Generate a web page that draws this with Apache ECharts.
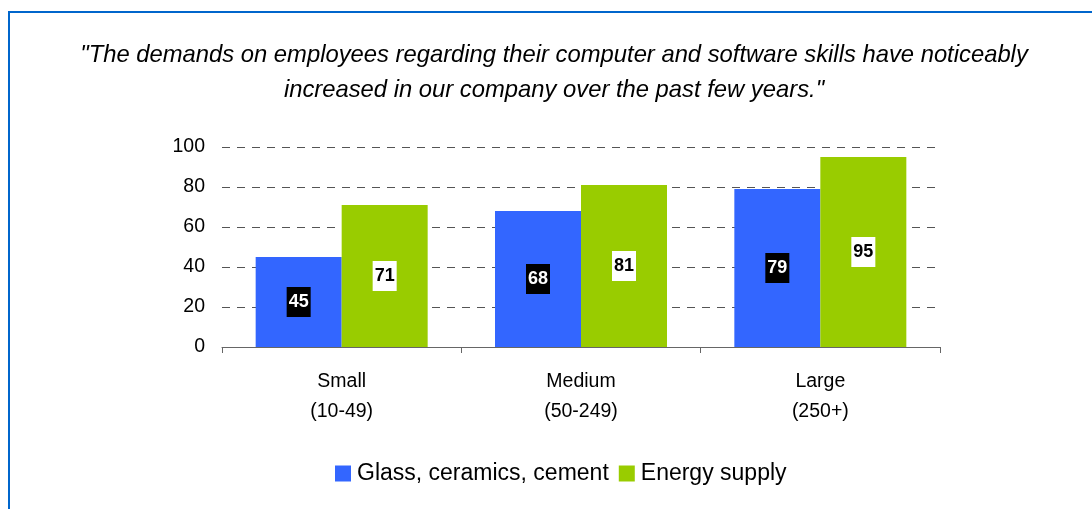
<!DOCTYPE html>
<html>
<head>
<meta charset="utf-8">
<script src="https://cdn.jsdelivr.net/npm/echarts@6/dist/echarts.min.js"></script>
<style>
html, body { margin: 0; padding: 0; background: #fff; }
#main { width: 1092px; height: 509px; }
</style>
</head>
<body>
<div id="main"></div>
<script>
// 数据
var categories = ['Small\n(10-49)', 'Medium\n(50-249)', 'Large\n(250+)'];
var glassValues = [45, 68, 79];
var energyValues = [71, 81, 95];
var seriesNames = ['Glass, ceramics, cement', 'Energy supply'];
var titleText = '"The demands on employees regarding their computer and software skills have noticeably\nincreased in our company over the past few years."';

var myChart = echarts.init(document.getElementById('main'));
var option = {
	graphic: [{
		type: 'polyline',
		shape: { points: [[9, 520], [9, 12], [1100, 12]] },
		style: { stroke: '#0066cc', lineWidth: 2, fill: null }
	}],
	title: {
		text: titleText,
		// 标题中心点略偏右
		left: 554,
		textAlign: 'center',
		top: 38,
		padding: 0,
		textStyle: {
			fontFamily: 'Liberation Sans',
			fontStyle: 'italic',
			fontWeight: 'normal',
			fontSize: 23.8,
			lineHeight: 35,
			color: '#000'
		}
	},
	legend: {
		top: 462,
		left: 335,
		padding: 0,
		itemWidth: 16,
		itemHeight: 16,
		itemGap: 10,
		icon: 'rect',
		textStyle: { fontFamily: 'Liberation Sans', fontSize: 23, color: '#000', padding: [0, 0, 0, 1] },
		data: seriesNames
	},
	grid: { left: 222, right: 152, top: 147, bottom: 162 },
	xAxis: {
		type: 'category',
		data: categories,
		axisLine: { lineStyle: { color: '#666' } },
		axisTick: { show: true, length: 6, lineStyle: { color: '#666' } },
		axisLabel: {
			fontFamily: 'Liberation Sans',
			fontSize: 19.5,
			lineHeight: 30,
			color: '#000',
			margin: 20
		}
	},
	yAxis: {
		type: 'value',
		min: 0,
		max: 100,
		interval: 20,
		axisLine: { show: false },
		axisTick: { show: false },
		axisLabel: { fontFamily: 'Liberation Sans', fontSize: 19.5, color: '#000', margin: 17 },
		splitLine: { lineStyle: { color: '#555', type: [8, 7], width: 1 } }
	},
	series: [{
		name: seriesNames[0],
		type: 'bar',
		data: glassValues,
		barWidth: 86,
		barGap: '0%',
		itemStyle: { color: '#3366ff' },
		label: {
			show: true,
			position: 'inside',
			fontFamily: 'Liberation Sans',
			fontWeight: 'bold',
			fontSize: 18,
			lineHeight: 18,
			color: '#fff',
			backgroundColor: '#000',
			padding: [6, 2, 6, 2]
		}
	}, {
		name: seriesNames[1],
		type: 'bar',
		data: energyValues,
		barWidth: 86,
		itemStyle: { color: '#99cc00' },
		label: {
			show: true,
			position: 'inside',
			fontFamily: 'Liberation Sans',
			fontWeight: 'bold',
			fontSize: 18,
			lineHeight: 18,
			color: '#000',
			backgroundColor: '#fff',
			padding: [6, 2, 6, 2]
		}
	}]
};
myChart.setOption(option);
</script>
</body>
</html>
